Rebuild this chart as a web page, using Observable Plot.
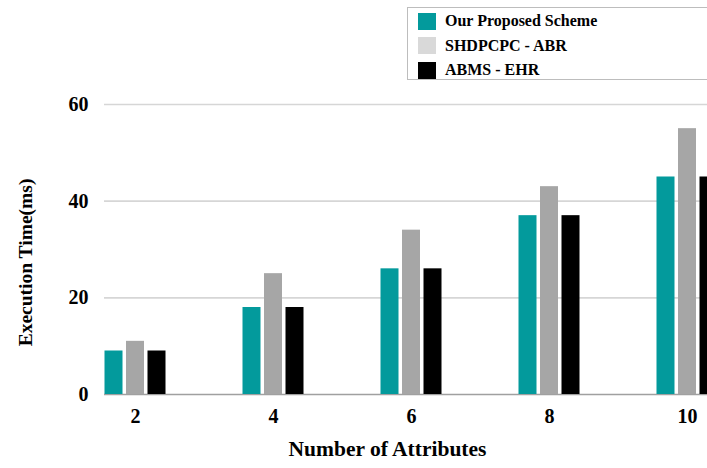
<!DOCTYPE html>
<html>
<head>
<meta charset="utf-8">
<script src="https://cdn.jsdelivr.net/npm/d3@7"></script>
<script src="https://cdn.jsdelivr.net/npm/@observablehq/plot@0.6"></script>
<style>
  html, body { margin: 0; padding: 0; background: white; overflow: hidden; }
  #chart { position: relative; width: 707px; height: 468px; overflow: hidden; background: white;
           font-family: "Liberation Serif", "Times New Roman", serif; font-weight: bold; }
  #legend { height: 85px; padding-left: 407px; box-sizing: border-box; padding-top: 7px; }
  #legend .box { position: relative; width: 330px; height: 73px; border: 1.5px solid #bdbdbd; box-sizing: border-box; overflow: hidden; }
  #legend .row { position: absolute; left: 10px; display: flex; align-items: center; height: 18px; }
  #legend .sw { width: 18px; height: 17px; margin-right: 9px; }
  #legend .lbl { font-size: 16px; color: #000; white-space: nowrap; }
  svg { display: block; }
</style>
</head>
<body>
<div id="chart">
  <div id="legend"><div class="box"></div></div>
</div>
<script>
// Execution time (ms) by number of attributes for three schemes
const attributes = [2, 4, 6, 8, 10];
const seriesNames = ["Our Proposed Scheme", "SHDPCPC - ABR", "ABMS - EHR"];
const proposed = [9, 18, 26, 37, 45];
const shdpcpc = [11, 25, 34, 43, 55];
const abmsEhr = [9, 18, 26, 37, 45];
const barColors = ["#039a9c", "#a6a6a6", "#000000"];
const legendColors = ["#039a9c", "#d9d9d9", "#000000"];
const yTicks = [0, 20, 40, 60];

const seriesValues = [proposed, shdpcpc, abmsEhr];
const rows = seriesNames.flatMap((s, si) =>
  attributes.map((a, i) => ({attr: String(a), series: s, value: seriesValues[si][i]}))
);

// Legend (top-right, open on its right side)
const box = document.querySelector("#legend .box");
seriesNames.forEach((name, i) => {
  const row = document.createElement("div");
  row.className = "row";
  row.style.top = (4 + i * 24.5) + "px";
  const sw = document.createElement("div");
  sw.className = "sw";
  sw.style.background = legendColors[i];
  const lbl = document.createElement("div");
  lbl.className = "lbl";
  lbl.textContent = name;
  row.append(sw, lbl);
  box.append(row);
});

// Per-series inset within each attribute band (band is 138px wide)
const insets = [[38.5, 81.5], [60, 60], [81.5, 38.5]];

const chart = Plot.plot({
  width: 707,
  height: 383,
  marginLeft: 104,
  marginRight: 0,
  marginTop: 19,
  marginBottom: 74,
  style: {
    fontFamily: "'Liberation Serif', 'Times New Roman', serif",
    fontWeight: "bold",
    fontSize: "20px",
    color: "#000",
    background: "white",
    overflow: "hidden"
  },
  x: {type: "band", domain: attributes.map(String), range: [65.5, 755.5], padding: 0},
  y: {domain: [0, 60], ticks: yTicks},
  marks: [
    Plot.ruleY(yTicks.slice(1), {stroke: "#d6d6d6", strokeWidth: 1.6}),
    Plot.ruleY([0], {stroke: "#a0a0a0", strokeWidth: 1.6}),
    ...seriesNames.map((s, i) =>
      Plot.barY(rows.filter(d => d.series === s), {
        x: "attr", y: "value", fill: barColors[i],
        insetLeft: insets[i][0], insetRight: insets[i][1]
      })
    ),
    Plot.axisY({ticks: yTicks, tickSize: 0, tickPadding: 16, label: null, fontSize: 20, fontWeight: "bold"}),
    Plot.axisX({tickSize: 0, tickPadding: 14, label: null, fontSize: 20, fontWeight: "bold"}),
    Plot.text(["Number of Attributes"], {
      frameAnchor: "bottom", dx: -18.5, dy: 61, fontSize: 21.5, fontWeight: "bold", fill: "#000"
    }),
    Plot.text(["Execution Time(ms)"], {
      frameAnchor: "left", textAnchor: "middle", dx: -79, dy: 13, rotate: -90,
      fontSize: 19.5, fontWeight: "bold", fill: "#000"
    })
  ]
});
document.getElementById("chart").append(chart);
</script>
</body>
</html>
